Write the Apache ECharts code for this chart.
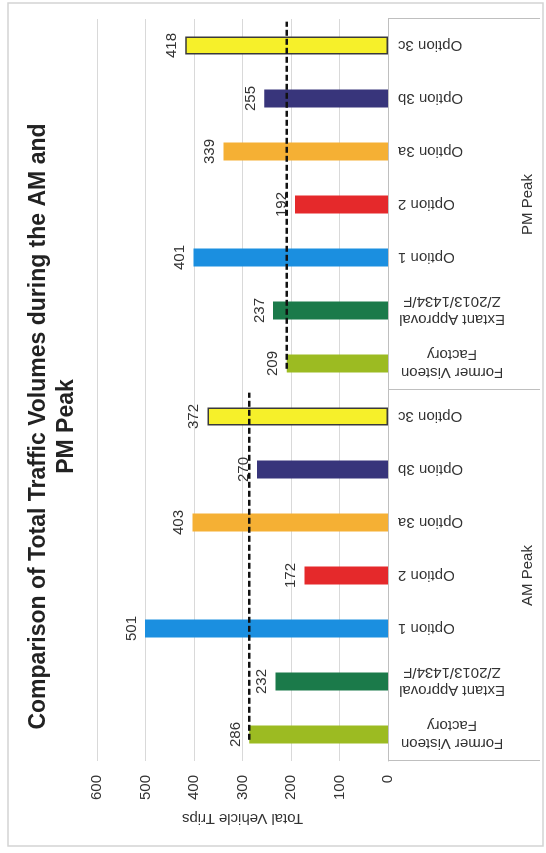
<!DOCTYPE html>
<html>
<head>
<meta charset="utf-8">
<script src="https://cdn.jsdelivr.net/npm/echarts@6/dist/echarts.min.js"></script>
<style>
  html, body { margin: 0; padding: 0; background: #fff; }
  body { width: 546px; height: 853px; overflow: hidden; position: relative; }
  /* the reference is a page scanned sideways: draw upright, then turn it */
  #chart {
    position: absolute; left: 0; top: 0;
    width: 853px; height: 546px;
    transform-origin: 0 0;
    transform: translate(0, 853px) rotate(-90deg);
  }
</style>
</head>
<body>
<div id="chart"></div>
<script>
const categories = [
  "Former Visteon\nFactory", "Extant Approval\nZ/2013/1434/F", "Option 1", "Option 2", "Option 3a", "Option 3b", "Option 3c",
  "Former Visteon\nFactory", "Extant Approval\nZ/2013/1434/F", "Option 1", "Option 2", "Option 3a", "Option 3b", "Option 3c"
]
const groups = ["AM Peak", "PM Peak"]
const amValues = [286, 232, 501, 172, 403, 270, 372]
const pmValues = [209, 237, 401, 192, 339, 255, 418]
const optionColors = ["#9cbb22", "#1b7a4a", "#1b8fe0", "#e5292b", "#f5b034", "#38357b", "#f6f02a"]
// dashed baseline (Former Visteon level) extents, in category units
const amLineX = [-0.1, 6.45]
const pmLineX = [6.9, 13.45]
const valueTicks = [0, 100, 200, 300, 400, 500, 600]

const font = "Liberation Sans, Arial, sans-serif"
const txt = "#333"

const chart = echarts.init(document.getElementById("chart"))

const barData = amValues.concat(pmValues).map((v, i) => {
  const k = i % 7
  const item = { value: v, itemStyle: { color: optionColors[k] } }
  if (k === 6) {
    item.itemStyle.borderColor = "#3a3a3a"
    item.itemStyle.borderWidth = 1.5
  }
  return item
})

chart.setOption({
  animation: false,
  backgroundColor: "#fff",
  textStyle: { fontFamily: font },
  title: {
    text: "Comparison of Total Traffic Volumes during the AM and\nPM Peak",
    left: "center",
    top: 20,
    textStyle: { fontFamily: font, fontSize: 23, fontWeight: "bold", color: "#222", lineHeight: 28 },
  },
  graphic: [
    {
      type: "rect",
      shape: { x: 7, y: 8, width: 843, height: 535 },
      style: { fill: "none", stroke: "#d4d4d4", lineWidth: 1.5 },
      silent: true,
    },
  ],
  grid: { left: 92, right: 19, top: 97, bottom: 158 },
  xAxis: [
    {
      type: "category",
      data: categories,
      position: "bottom",
      axisLine: { lineStyle: { color: "#bfbfbf", width: 1 } },
      axisTick: { show: false },
      axisLabel: {
        interval: 0,
        rotate: 90,
        margin: 10,
        fontSize: 15,
        color: txt,
        fontFamily: font,
        formatter: (v) => v.indexOf("\n") >= 0 ? v.split("\n").map((s) => "{w|" + s + "}").join("\n") : v,
        rich: {
          w: { width: 108, align: "center", fontSize: 15, color: txt, fontFamily: font, lineHeight: 18 },
        },
      },
    },
    {
      type: "category",
      data: groups,
      position: "bottom",
      axisLine: { show: false },
      axisTick: { show: true, length: 152, lineStyle: { color: "#bfbfbf" } },
      axisLabel: { margin: 132, fontSize: 15, color: txt, fontFamily: font },
    },
    {
      type: "value",
      min: -0.5,
      max: 13.5,
      show: false,
      position: "top",
    },
  ],
  yAxis: {
    type: "value",
    min: valueTicks[0],
    max: valueTicks[valueTicks.length - 1],
    interval: 100,
    name: "Total Vehicle Trips",
    nameLocation: "middle",
    nameRotate: 90,
    nameGap: 44,
    nameTextStyle: { fontSize: 15, color: txt, fontFamily: font },
    axisLine: { show: false },
    axisTick: { show: false },
    axisLabel: { margin: 14, fontSize: 15, color: txt, fontFamily: font },
    splitLine: { lineStyle: { color: "#d9d9d9", width: 1 } },
  },
  series: [
    {
      type: "bar",
      xAxisIndex: 0,
      data: barData,
      barWidth: 18,
      label: { show: true, position: "top", distance: 6, fontSize: 15, color: txt, fontFamily: font },
    },
    {
      type: "line",
      xAxisIndex: 2,
      data: amLineX.map((x) => [x, amValues[0]]),
      symbol: "none",
      z: 5,
      lineStyle: { color: "#111", width: 2.5, type: [6, 3] },
    },
    {
      type: "line",
      xAxisIndex: 2,
      data: pmLineX.map((x) => [x, pmValues[0]]),
      symbol: "none",
      z: 5,
      lineStyle: { color: "#111", width: 2.5, type: [6, 3] },
    },
  ],
})
</script>
</body>
</html>
